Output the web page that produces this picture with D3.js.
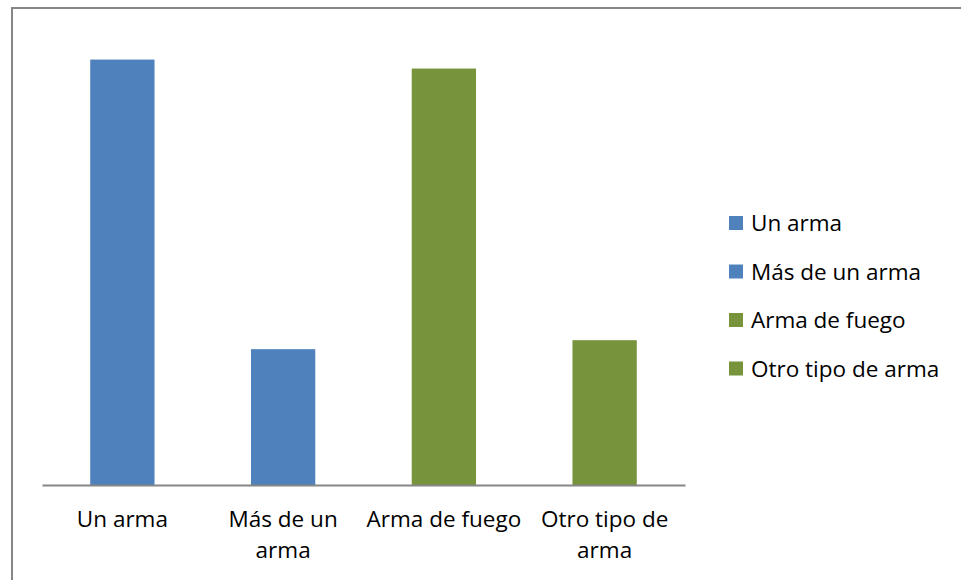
<!DOCTYPE html>
<html>
<head>
<meta charset="utf-8">
<script src="https://cdn.jsdelivr.net/npm/d3@7"></script>
<style>
  body { margin: 0; background: #fff; }
  text { font-family: "Open Sans", Lato, sans-serif; fill: #000; }
</style>
</head>
<body>
<div id="chart"></div>
<script>
// categories, values (%), colours per bar
const categories = ["Un arma", "Más de un arma", "Arma de fuego", "Otro tipo de arma"];
const values = [75.8, 24.2, 74.2, 25.8];
const barColors = ["#4F81BD", "#4F81BD", "#77933C", "#77933C"];
// x tick labels as they wrap in the original
const tickLines = [["Un arma"], ["Más de un", "arma"], ["Arma de fuego"], ["Otro tipo de", "arma"]];

const width = 961, height = 580;
const plot = { left: 42, right: 685, top: 36, bottom: 485 };
const fontSize = "22.5px";

const svg = d3.select("#chart").append("svg")
    .attr("width", width)
    .attr("height", height);

// outer chart border (runs off the right and bottom edges)
svg.append("rect")
    .attr("x", 12).attr("y", 8)
    .attr("width", 1000).attr("height", 600)
    .attr("fill", "none")
    .attr("stroke", "#868686")
    .attr("stroke-width", 2);

const x = d3.scaleBand()
    .domain(categories)
    .range([plot.left, plot.right])
    .paddingInner(0.6)
    .paddingOuter(0.3);

const y = d3.scaleLinear()
    .domain([0, 80])
    .range([plot.bottom, plot.top]);

svg.selectAll("rect.bar")
    .data(categories)
    .enter()
    .append("rect")
    .attr("class", "bar")
    .attr("x", d => x(d))
    .attr("width", x.bandwidth())
    .attr("y", (d, i) => y(values[i]))
    .attr("height", (d, i) => y(0) - y(values[i]))
    .attr("fill", (d, i) => barColors[i]);

// x axis
const xAxis = svg.append("g")
    .attr("transform", `translate(0,${plot.bottom})`)
    .call(d3.axisBottom(x).tickSize(0).tickFormat(""));
xAxis.select(".domain").attr("stroke", "#868686").attr("stroke-width", 2);

xAxis.selectAll(".tick").each(function (d, i) {
    const t = d3.select(this).append("text")
        .attr("text-anchor", "middle")
        .attr("y", 42)
        .style("font-size", fontSize);
    tickLines[i].forEach((line, j) => {
        t.append("tspan").attr("x", 0).attr("dy", j === 0 ? 0 : 31).text(line);
    });
});

// legend
const legend = svg.append("g").attr("transform", "translate(729,216)");
const rows = legend.selectAll("g")
    .data(categories)
    .enter()
    .append("g")
    .attr("transform", (d, i) => `translate(0,${i * 48.5})`);
rows.append("rect")
    .attr("width", 14).attr("height", 14)
    .attr("fill", (d, i) => barColors[i]);
rows.append("text")
    .attr("x", 22)
    .attr("y", 15)
    .style("font-size", fontSize)
    .text(d => d);
</script>
</body>
</html>
